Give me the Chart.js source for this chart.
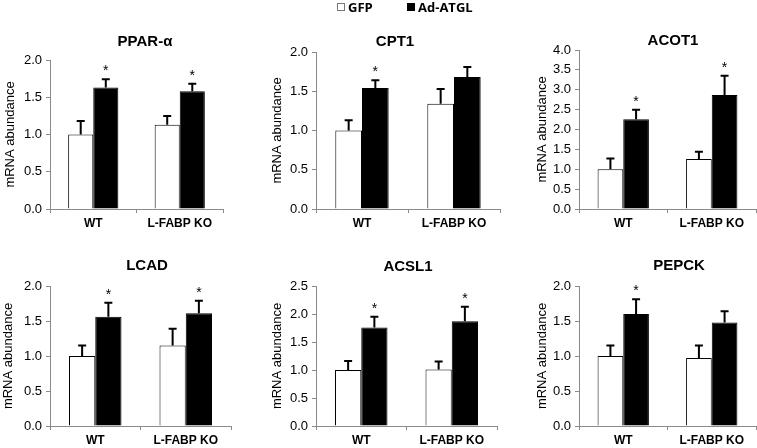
<!DOCTYPE html>
<html>
<head>
<meta charset="utf-8">
<script src="https://cdn.jsdelivr.net/npm/chart.js@4.4.1/dist/chart.umd.min.js"></script>
<style>
  html, body { margin: 0; padding: 0; background: #fff; }
  body { width: 757px; height: 448px; position: relative; overflow: hidden; }
  canvas { position: absolute; }
  .legend-item { position: absolute; top: -2px; display: flex; align-items: center;
    font: bold 13px 'Open Sans', sans-serif; color: #000; white-space: nowrap; }
  .legend-item .box { width: 8px; height: 8px; margin-right: 3px; box-sizing: border-box; }
</style>
</head>
<body>
<script>
// data
const genes = ['PPAR-α', 'CPT1', 'ACOT1', 'LCAD', 'ACSL1', 'PEPCK'];
const groups = ['WT', 'L-FABP KO'];
const seriesNames = ['GFP', 'Ad-ATGL'];

const gfpMean = [[1.00, 1.13], [1.00, 1.34], [1.00, 1.26], [1.00, 1.15], [1.00, 1.01], [1.00, 0.97]];
const gfpErr  = [[0.18, 0.12], [0.13, 0.19], [0.27, 0.18], [0.15, 0.24], [0.16, 0.14], [0.15, 0.18]];
const atglMean = [[1.63, 1.58], [1.54, 1.68], [2.26, 2.87], [1.56, 1.61], [1.76, 1.87], [1.60, 1.48]];
const atglErr  = [[0.11, 0.10], [0.10, 0.13], [0.24, 0.48], [0.20, 0.18], [0.19, 0.26], [0.21, 0.16]];
const atglStar = [[true, true], [true, false], [true, true], [true, true], [true, true], [true, false]];

const yMax = [2.0, 2.0, 4.0, 2.0, 2.5, 2.0];
const yStep = 0.5;

// panel placement on the page (canvas box, plot area, title spots)
const panelLayout = [
  { x: 0,   y: 0,   w: 262, h: 234, plotL: 50,  plotR: 223, plotT: 60,  plotB: 209, titleX: 145, titleY: 42,  yTitleX: 10 },
  { x: 262, y: 0,   w: 266, h: 234, plotL: 316, plotR: 500, plotT: 52,  plotB: 209, titleX: 395, titleY: 42,  yTitleX: 277 },
  { x: 530, y: 0,   w: 227, h: 234, plotL: 579, plotR: 756, plotT: 50,  plotB: 209, titleX: 673, titleY: 41,  yTitleX: 542 },
  { x: 0,   y: 224, w: 262, h: 224, plotL: 50,  plotR: 231, plotT: 286, plotB: 426, titleX: 147, titleY: 266, yTitleX: 8 },
  { x: 262, y: 224, w: 266, h: 224, plotL: 316, plotR: 497, plotT: 286, plotB: 426, titleX: 408, titleY: 267, yTitleX: 277 },
  { x: 530, y: 224, w: 227, h: 224, plotL: 579, plotR: 756, plotT: 286, plotB: 426, titleX: 679, titleY: 266, yTitleX: 542 }
];

Chart.defaults.font.family = "'Liberation Sans', Arial, sans-serif";
Chart.defaults.color = '#000';

const axisGray = '#8a8a8a';

// error bars (upper half only) + significance stars
const errorBarPlugin = {
  id: 'errorBars',
  afterDatasetsDraw(chart) {
    const ctx = chart.ctx;
    const yScale = chart.scales.y;
    chart.data.datasets.forEach((ds, di) => {
      const meta = chart.getDatasetMeta(di);
      meta.data.forEach((bar, i) => {
        const top = yScale.getPixelForValue(ds.data[i] + ds.errors[i]);
        ctx.save();
        ctx.strokeStyle = '#000';
        ctx.lineWidth = 2;
        ctx.beginPath();
        ctx.moveTo(bar.x, bar.y);
        ctx.lineTo(bar.x, top);
        ctx.moveTo(bar.x - 4, top);
        ctx.lineTo(bar.x + 4, top);
        ctx.stroke();
        if (ds.stars && ds.stars[i]) {
          ctx.fillStyle = '#000';
          ctx.font = "14px 'Liberation Sans', Arial, sans-serif";
          ctx.textAlign = 'center';
          ctx.textBaseline = 'alphabetic';
          ctx.fillText('*', bar.x, top - 4);
        }
        ctx.restore();
      });
    });
  }
};

// move the title sideways to where it sits in the figure
const titleShiftPlugin = {
  id: 'titleShift',
  afterLayout(chart, args, opts) {
    const t = chart.titleBlock;
    if (!t) return;
    const mid = (t.left + t.right) / 2;
    const dx = opts.centerX - mid;
    t.left += dx;
    t.right += dx;
  }
};

function makePanel(i) {
  const g = panelLayout[i];
  const canvas = document.createElement('canvas');
  canvas.width = g.w;
  canvas.height = g.h;
  canvas.style.left = g.x + 'px';
  canvas.style.top = g.y + 'px';
  document.body.appendChild(canvas);

  const titlePadTop = g.titleY - g.y - 9;
  const titlePadBottom = g.plotT - g.y - titlePadTop - 18;

  return new Chart(canvas.getContext('2d'), {
    type: 'bar',
    data: {
      labels: groups,
      datasets: [
        {
          label: seriesNames[0],
          data: gfpMean[i],
          errors: gfpErr[i],
          backgroundColor: '#fff',
          borderColor: '#000',
          borderWidth: 1
        },
        {
          label: seriesNames[1],
          data: atglMean[i],
          errors: atglErr[i],
          stars: atglStar[i],
          backgroundColor: '#000',
          borderColor: '#000',
          borderWidth: 1
        }
      ]
    },
    options: {
      responsive: false,
      animation: false,
      categoryPercentage: 0.58,
      barPercentage: 1.0,
      layout: { padding: { left: 0, top: 0, bottom: 0, right: g.x + g.w - g.plotR } },
      plugins: {
        legend: { display: false },
        tooltip: { enabled: false },
        title: {
          display: true,
          text: genes[i],
          fullSize: false,
          font: { size: 15, weight: 'bold', lineHeight: 1.2 },
          padding: { top: titlePadTop, bottom: titlePadBottom }
        },
        titleShift: { centerX: g.titleX - g.x }
      },
      scales: {
        x: {
          grid: { display: true, drawOnChartArea: false, tickLength: 4, color: axisGray },
          border: { display: true, color: axisGray },
          ticks: { font: { size: 12, weight: 'bold' }, padding: 3, maxRotation: 0 },
          afterFit: s => { s.height = g.y + g.h - g.plotB; }
        },
        y: {
          min: 0,
          max: yMax[i],
          grid: { display: true, drawOnChartArea: false, tickLength: 4, color: axisGray },
          border: { display: true, color: axisGray },
          ticks: { stepSize: yStep, font: { size: 13 }, padding: 4, callback: v => v.toFixed(1) },
          title: {
            display: true,
            text: 'mRNA abundance',
            font: { size: 13, lineHeight: 1.2 },
            padding: { top: g.yTitleX - g.x - 7.8, bottom: 0 }
          },
          afterFit: s => { s.width = g.plotL - g.x; }
        }
      }
    },
    plugins: [errorBarPlugin, titleShiftPlugin]
  });
}

const charts = [];
genes.forEach((gene, i) => charts.push(makePanel(i)));

// shared legend above the middle panel
const legendSpots = [337, 407];
const legendFills = [['#fff', '1px solid #777'], ['#000', 'none']];
seriesNames.forEach((name, i) => {
  const item = document.createElement('div');
  item.className = 'legend-item';
  item.style.left = legendSpots[i] + 'px';
  const box = document.createElement('span');
  box.className = 'box';
  box.style.background = legendFills[i][0];
  box.style.border = legendFills[i][1];
  item.appendChild(box);
  item.appendChild(document.createTextNode(name));
  document.body.appendChild(item);
});
</script>
</body>
</html>
